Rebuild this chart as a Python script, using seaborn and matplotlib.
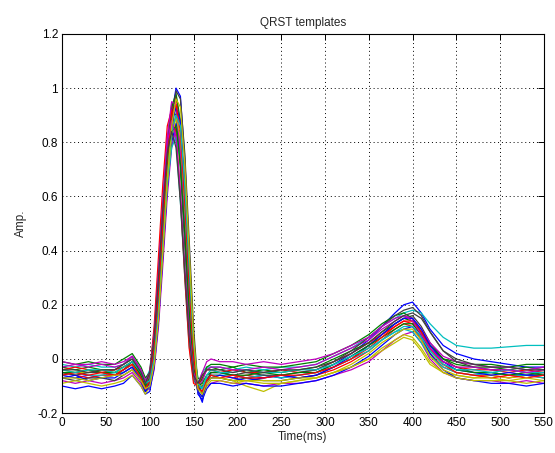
import pandas as pd
import matplotlib
matplotlib.use('Agg')
import matplotlib.pyplot as plt
import seaborn as sns

# sample times (ms) shared by all templates
time_ms = [0, 15, 30, 45, 60, 70, 80, 90, 95, 100, 105, 110, 115, 120, 125,
           130, 135, 140, 145, 150, 155, 160, 165, 170, 180, 195, 210, 230,
           250, 270, 290, 310, 330, 350, 365, 380, 390, 400, 410, 420, 435,
           450, 470, 490, 510, 530, 550]

# QRST templates (amplitude, normalised)
tpl_01 = [-0.06, -0.07, -0.06, -0.07, -0.06, -0.04, -0.02, -0.07, -0.11,
          -0.09, 0.02, 0.22, 0.45, 0.70, 0.90, 1.00, 0.97, 0.74, 0.40,
          0.08, -0.12, -0.16, -0.08, -0.05, -0.05, -0.06, -0.07, -0.06, -0.07, -0.06, -0.05,
          -0.02, 0.02, 0.07, 0.12, 0.17, 0.20, 0.21, 0.17, 0.11,
          0.05, 0.02, 0.00, -0.01, -0.02, -0.03, -0.03]
tpl_02 = [-0.03, -0.04, -0.03, -0.04, -0.04, -0.02, 0.00, -0.05, -0.10,
          -0.06, 0.08, 0.30, 0.55, 0.78, 0.92, 0.90, 0.70, 0.42, 0.15,
          -0.04, -0.10, -0.07, -0.04, -0.03, -0.04, -0.03, -0.05, -0.04, -0.05, -0.04, -0.03,
          0.00, 0.03, 0.06, 0.10, 0.13, 0.15, 0.14, 0.10, 0.05,
          0.00, -0.02, -0.03, -0.03, -0.04, -0.03, -0.04]
tpl_03 = [-0.05, -0.06, -0.07, -0.06, -0.06, -0.05, -0.03, -0.07, -0.10,
          -0.08, 0.04, 0.25, 0.50, 0.75, 0.92, 0.97, 0.85, 0.58, 0.28,
          0.02, -0.10, -0.12, -0.07, -0.06, -0.06, -0.07, -0.06, -0.07, -0.06, -0.07, -0.06,
          -0.04, -0.01, 0.03, 0.07, 0.11, 0.13, 0.12, 0.07, 0.02,
          -0.03, -0.05, -0.06, -0.06, -0.07, -0.06, -0.07]
tpl_04 = [-0.02, -0.03, -0.02, -0.03, -0.03, -0.02, 0.01, -0.04, -0.08,
          -0.04, 0.10, 0.33, 0.60, 0.82, 0.88, 0.80, 0.58, 0.30, 0.05,
          -0.08, -0.09, -0.05, -0.03, -0.03, -0.03, -0.04, -0.03, -0.04, -0.03, -0.03, -0.02,
          0.01, 0.04, 0.08, 0.12, 0.15, 0.17, 0.18, 0.17, 0.13,
          0.08, 0.05, 0.04, 0.04, 0.045, 0.05, 0.05]
tpl_05 = [-0.08, -0.09, -0.08, -0.09, -0.08, -0.07, -0.05, -0.09, -0.12,
          -0.11, -0.04, 0.12, 0.35, 0.60, 0.78, 0.85, 0.84, 0.65, 0.35,
          0.05, -0.10, -0.13, -0.10, -0.09, -0.08, -0.09, -0.09, -0.10, -0.09, -0.09, -0.08,
          -0.06, -0.04, -0.01, 0.03, 0.07, 0.09, 0.10, 0.06, 0.00,
          -0.05, -0.07, -0.08, -0.08, -0.09, -0.08, -0.09]
tpl_06 = [-0.04, -0.05, -0.05, -0.04, -0.05, -0.04, -0.02, -0.06, -0.09,
          -0.07, 0.03, 0.22, 0.46, 0.70, 0.85, 0.90, 0.80, 0.55, 0.25,
          0.00, -0.09, -0.10, -0.07, -0.06, -0.07, -0.08, -0.10, -0.12, -0.09, -0.08, -0.07,
          -0.05, -0.03, 0.00, 0.03, 0.06, 0.08, 0.07, 0.03, -0.02,
          -0.05, -0.06, -0.07, -0.06, -0.07, -0.06, -0.06]
tpl_07 = [-0.07, -0.08, -0.07, -0.07, -0.08, -0.06, -0.04, -0.08, -0.12,
          -0.08, 0.06, 0.28, 0.55, 0.80, 0.94, 0.93, 0.75, 0.45, 0.15,
          -0.06, -0.12, -0.10, -0.08, -0.07, -0.07, -0.08, -0.07, -0.08, -0.08, -0.07, -0.06,
          -0.03, 0.00, 0.05, 0.09, 0.13, 0.15, 0.16, 0.12, 0.06,
          0.00, -0.03, -0.05, -0.05, -0.06, -0.06, -0.05]
tpl_08 = [-0.10, -0.11, -0.10, -0.11, -0.10, -0.09, -0.06, -0.10, -0.13,
          -0.12, -0.03, 0.14, 0.38, 0.63, 0.80, 0.87, 0.83, 0.62, 0.32,
          0.02, -0.13, -0.15, -0.11, -0.09, -0.09, -0.10, -0.09, -0.10, -0.10, -0.09, -0.08,
          -0.06, -0.03, 0.01, 0.05, 0.09, 0.11, 0.12, 0.08, 0.02,
          -0.04, -0.07, -0.08, -0.09, -0.09, -0.10, -0.09]
tpl_09 = [-0.01, -0.02, -0.01, -0.02, -0.02, 0.00, 0.02, -0.03, -0.07,
          -0.05, 0.06, 0.27, 0.53, 0.77, 0.93, 0.98, 0.88, 0.60, 0.30,
          0.03, -0.07, -0.08, -0.03, -0.02, -0.02, -0.03, -0.02, -0.03, -0.03, -0.02, -0.01,
          0.02, 0.05, 0.09, 0.13, 0.16, 0.17, 0.15, 0.10, 0.05,
          0.00, -0.01, -0.02, -0.02, -0.03, -0.02, -0.02]
tpl_10 = [-0.04, -0.03, -0.04, -0.05, -0.04, -0.03, -0.01, -0.06, -0.11,
          -0.05, 0.12, 0.38, 0.65, 0.86, 0.92, 0.84, 0.60, 0.30, 0.04,
          -0.09, -0.10, -0.06, -0.04, -0.04, -0.05, -0.04, -0.05, -0.05, -0.04, -0.05, -0.04,
          -0.01, 0.02, 0.06, 0.09, 0.12, 0.14, 0.13, 0.09, 0.04,
          -0.01, -0.03, -0.04, -0.04, -0.05, -0.04, -0.05]
tpl_11 = [-0.06, -0.05, -0.06, -0.06, -0.05, -0.05, -0.03, -0.07, -0.10,
          -0.08, 0.02, 0.20, 0.42, 0.64, 0.78, 0.82, 0.74, 0.50, 0.22,
          -0.01, -0.10, -0.11, -0.07, -0.06, -0.06, -0.06, -0.07, -0.06, -0.07, -0.06, -0.05,
          -0.03, 0.00, 0.03, 0.07, 0.10, 0.11, 0.10, 0.06, 0.01,
          -0.03, -0.05, -0.06, -0.05, -0.06, -0.06, -0.07]
tpl_12 = [-0.03, -0.02, -0.03, -0.02, -0.03, -0.02, 0.01, -0.04, -0.09,
          -0.06, 0.08, 0.30, 0.58, 0.82, 0.95, 0.94, 0.76, 0.46, 0.16,
          -0.05, -0.11, -0.08, -0.04, -0.03, -0.03, -0.04, -0.04, -0.03, -0.04, -0.03, -0.02,
          0.01, 0.04, 0.07, 0.11, 0.14, 0.16, 0.15, 0.11, 0.06,
          0.01, -0.01, -0.02, -0.03, -0.03, -0.04, -0.03]
tpl_13 = [-0.09, -0.08, -0.09, -0.10, -0.09, -0.08, -0.06, -0.10, -0.13,
          -0.10, -0.01, 0.17, 0.40, 0.65, 0.82, 0.89, 0.82, 0.60, 0.30,
          0.00, -0.12, -0.14, -0.10, -0.08, -0.08, -0.09, -0.08, -0.09, -0.09, -0.08, -0.07,
          -0.05, -0.03, 0.00, 0.04, 0.07, 0.09, 0.08, 0.04, -0.01,
          -0.05, -0.07, -0.08, -0.08, -0.08, -0.09, -0.08]
tpl_14 = [-0.05, -0.06, -0.05, -0.05, -0.06, -0.04, -0.01, -0.06, -0.10,
          -0.09, 0.00, 0.18, 0.42, 0.68, 0.88, 0.99, 0.96, 0.76, 0.44,
          0.12, -0.10, -0.13, -0.08, -0.05, -0.05, -0.06, -0.05, -0.06, -0.06, -0.05, -0.04,
          -0.01, 0.03, 0.08, 0.12, 0.16, 0.18, 0.19, 0.16, 0.10,
          0.03, -0.01, -0.03, -0.04, -0.04, -0.05, -0.05]
tpl_15 = [-0.07, -0.06, -0.08, -0.07, -0.07, -0.05, -0.03, -0.08, -0.12,
          -0.10, 0.01, 0.20, 0.44, 0.69, 0.86, 0.93, 0.88, 0.64, 0.33,
          0.04, -0.12, -0.14, -0.09, -0.07, -0.06, -0.07, -0.08, -0.07, -0.06, -0.07, -0.06,
          -0.03, 0.01, 0.05, 0.09, 0.13, 0.15, 0.15, 0.11, 0.05,
          -0.01, -0.04, -0.05, -0.06, -0.05, -0.06, -0.06]
tpl_16 = [-0.05, -0.05, -0.04, -0.05, -0.05, -0.03, -0.01, -0.06, -0.10,
          -0.07, 0.05, 0.25, 0.50, 0.72, 0.84, 0.86, 0.72, 0.46, 0.18,
          -0.03, -0.10, -0.09, -0.06, -0.05, -0.05, -0.06, -0.06, -0.05, -0.06, -0.05, -0.05,
          -0.02, 0.01, 0.05, 0.08, 0.11, 0.13, 0.13, 0.09, 0.03,
          -0.02, -0.04, -0.05, -0.05, -0.06, -0.05, -0.06]
tpl_17 = [-0.06, -0.05, -0.06, -0.05, -0.06, -0.04, -0.02, -0.07, -0.11,
          -0.08, 0.04, 0.24, 0.50, 0.74, 0.90, 0.94, 0.84, 0.58, 0.27,
          0.01, -0.11, -0.12, -0.08, -0.06, -0.07, -0.06, -0.07, -0.07, -0.06, -0.06, -0.05,
          -0.03, 0.00, 0.04, 0.08, 0.12, 0.14, 0.14, 0.10, 0.04,
          -0.02, -0.05, -0.06, -0.07, -0.06, -0.07, -0.06]
tpl_18 = [-0.04, -0.05, -0.04, -0.04, -0.05, -0.03, -0.01, -0.05, -0.09,
          -0.08, 0.00, 0.18, 0.42, 0.67, 0.84, 0.90, 0.86, 0.64, 0.34,
          0.06, -0.09, -0.11, -0.06, -0.04, -0.05, -0.05, -0.04, -0.05, -0.05, -0.04, -0.04,
          -0.02, 0.01, 0.04, 0.07, 0.10, 0.12, 0.12, 0.08, 0.03,
          -0.02, -0.04, -0.04, -0.05, -0.04, -0.05, -0.05]
tpl_19 = [-0.01, -0.02, -0.02, -0.01, -0.02, -0.01, 0.01, -0.04, -0.08,
          -0.05, 0.09, 0.32, 0.58, 0.80, 0.88, 0.82, 0.62, 0.34, 0.10,
          -0.05, -0.09, -0.05, -0.01, 0.00, -0.01, -0.01, -0.02, -0.01, -0.02, -0.01, 0.00,
          0.02, 0.05, 0.08, 0.12, 0.15, 0.16, 0.14, 0.09, 0.04,
          -0.01, -0.03, -0.03, -0.04, -0.04, -0.05, -0.04]
tpl_20 = [-0.07, -0.07, -0.08, -0.07, -0.06, -0.06, -0.04, -0.08, -0.11,
          -0.10, -0.02, 0.15, 0.40, 0.66, 0.86, 0.96, 0.93, 0.72, 0.40,
          0.08, -0.11, -0.13, -0.09, -0.07, -0.07, -0.08, -0.08, -0.08, -0.08, -0.07, -0.07,
          -0.05, -0.02, 0.02, 0.06, 0.09, 0.11, 0.11, 0.07, 0.01,
          -0.04, -0.06, -0.07, -0.07, -0.08, -0.07, -0.08]
tpl_21 = [-0.04, -0.04, -0.05, -0.04, -0.04, -0.02, 0.00, -0.05, -0.09,
          -0.05, 0.08, 0.30, 0.56, 0.76, 0.84, 0.78, 0.58, 0.32, 0.08,
          -0.06, -0.09, -0.06, -0.04, -0.04, -0.04, -0.05, -0.04, -0.05, -0.04, -0.04, -0.03,
          -0.01, 0.02, 0.06, 0.10, 0.14, 0.16, 0.17, 0.15, 0.10,
          0.03, 0.00, -0.02, -0.03, -0.03, -0.04, -0.04]

templates = [tpl_01, tpl_02, tpl_03, tpl_04, tpl_05, tpl_06, tpl_07,
             tpl_08, tpl_09, tpl_10, tpl_11, tpl_12, tpl_13, tpl_14,
             tpl_15, tpl_16, tpl_17, tpl_18, tpl_19, tpl_20, tpl_21]

x_ticks = [0, 50, 100, 150, 200, 250, 300, 350, 400, 450, 500, 550]
y_ticks = [-0.2, 0, 0.2, 0.4, 0.6, 0.8, 1.0, 1.2]
y_tick_labels = ['-0.2', '0', '0.2', '0.4', '0.6', '0.8', '1', '1.2']

# old matlab line colour order
matlab_colors = [(0, 0, 1), (0, 0.5, 0), (1, 0, 0), (0, 0.75, 0.75),
                 (0.75, 0, 0.75), (0.75, 0.75, 0), (0.25, 0.25, 0.25)]

rows = []
for i, tpl in enumerate(templates):
    for t, a in zip(time_ms, tpl):
        rows.append({'template': i, 'time': t, 'amp': a})
df = pd.DataFrame(rows)

palette = [matlab_colors[i % len(matlab_colors)] for i in range(len(templates))]

sns.set_style('white')
plt.rcParams['font.family'] = ['Liberation Sans', 'DejaVu Sans']

fig, ax = plt.subplots(figsize=(5.55, 4.53), dpi=100)
fig.subplots_adjust(left=0.112, right=0.980, top=0.925, bottom=0.088)

sns.lineplot(data=df, x='time', y='amp', hue='template', palette=palette,
             estimator=None, legend=False, linewidth=0.9, ax=ax)

ax.set_xlim(0, 550)
ax.set_ylim(-0.2, 1.2)
ax.set_xticks(x_ticks)
ax.set_yticks(y_ticks)
ax.set_yticklabels(y_tick_labels)
ax.grid(True, linestyle=(0, (1, 3)), color='black', linewidth=0.7)
ax.tick_params(direction='in', top=True, right=True, length=4, width=0.7,
               labelsize=8.5, pad=3, colors='black')
for s in ax.spines.values():
    s.set_color('black')
    s.set_linewidth(0.8)

ax.set_title('QRST templates', fontsize=8.5, pad=6)
ax.set_xlabel('Time(ms)', fontsize=8.5, labelpad=1)
ax.set_ylabel('Amp.', fontsize=8.5, labelpad=8)

plt.savefig('out.png', dpi=100)
